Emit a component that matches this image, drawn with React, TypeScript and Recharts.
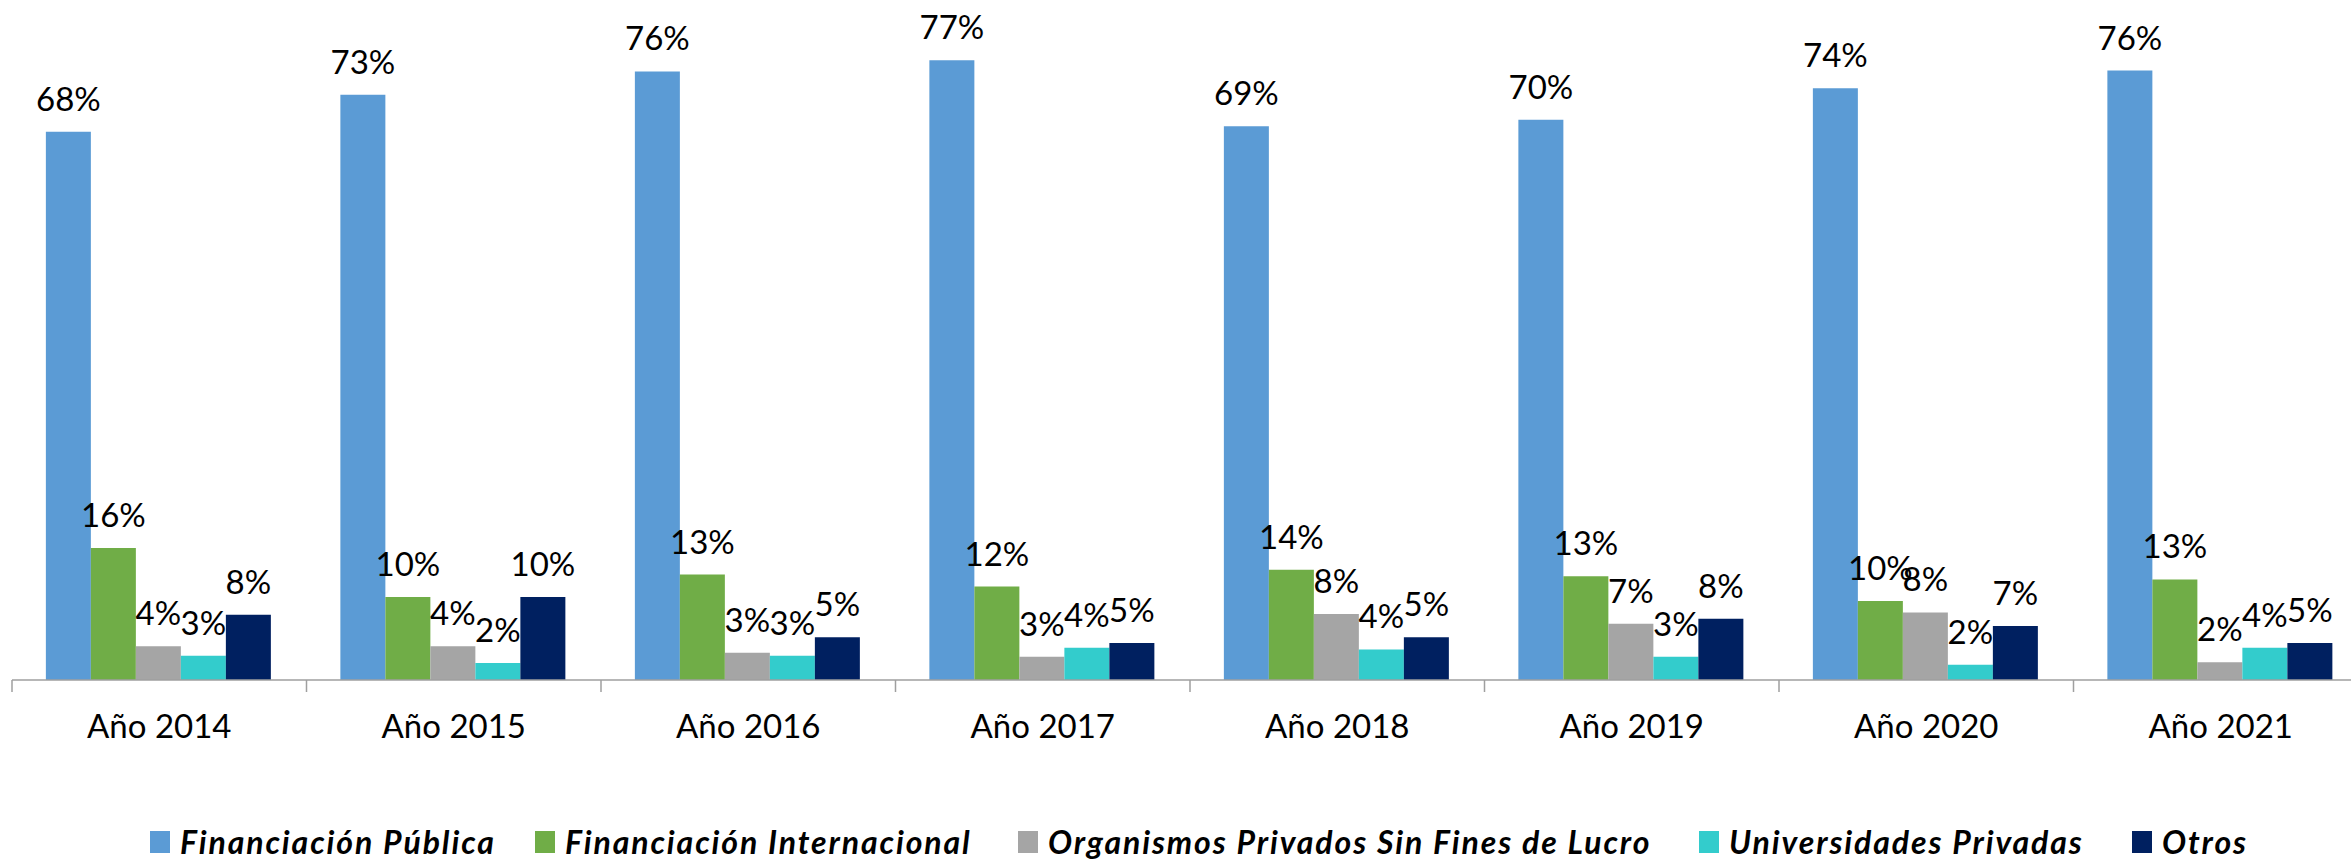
import React from 'react';
import { BarChart, Bar, XAxis, YAxis, LabelList, Legend } from 'recharts';

const categories = ['Año 2014', 'Año 2015', 'Año 2016', 'Año 2017', 'Año 2018', 'Año 2019', 'Año 2020', 'Año 2021'];
const publica = [68.1, 72.7, 75.6, 77.0, 68.8, 69.6, 73.5, 75.7];
const internacional = [16.4, 10.3, 13.1, 11.6, 13.7, 12.9, 9.8, 12.5];
const privados = [4.2, 4.2, 3.4, 2.9, 8.2, 7.0, 8.4, 2.2];
const universidades = [3.0, 2.1, 3.0, 4.0, 3.8, 2.9, 1.9, 4.0];
const otros = [8.1, 10.3, 5.3, 4.6, 5.3, 7.6, 6.7, 4.6];

const seriesNames = [
  'Financiación Pública',
  'Financiación Internacional',
  'Organismos Privados Sin Fines de Lucro',
  'Universidades Privadas',
  'Otros',
];
const seriesKeys = ['publica', 'internacional', 'privados', 'universidades', 'otros'];
const seriesColors = ['#5B9BD5', '#70AD47', '#A5A5A5', '#33CCCC', '#002060'];
const legendItemWidths = [385, 483, 681, 433, 150];

const data = categories.map((c, i) => ({
  name: c,
  publica: publica[i],
  internacional: internacional[i],
  privados: privados[i],
  universidades: universidades[i],
  otros: otros[i],
}));

const FONT = 'Lato, Carlito, Calibri, "Noto Sans", sans-serif';
const fmt = (v: any) => `${Math.round(Number(v))}%`;

const CustomTick = (props: any) => {
  const { x, y, payload, index } = props;
  const off = payload && typeof payload.offset === 'number' && payload.offset > 0 ? payload.offset : 147.25;
  const axisY = y - 12;
  return (
    <g>
      <line x1={x - off} x2={x - off} y1={axisY} y2={axisY + 12} stroke="#9F9F9F" strokeWidth={1.5} />
      {index === categories.length - 1 && (
        <line x1={x + off} x2={x + off} y1={axisY} y2={axisY + 12} stroke="#9F9F9F" strokeWidth={1.5} />
      )}
      <text x={x} y={axisY + 58} textAnchor="middle" fill="#000" fontSize={33} fontFamily={FONT}>
        {payload.value}
      </text>
    </g>
  );
};

const CustomLegend = () => (
  <div style={{ display: 'flex', alignItems: 'center', paddingLeft: 150 }}>
    {seriesNames.map((n, i) => (
      <div key={n} style={{ display: 'flex', alignItems: 'center', width: legendItemWidths[i], flex: 'none' }}>
        <div style={{ width: 20, height: 22, background: seriesColors[i], marginRight: 10, flex: 'none' }} />
        <span
          style={{
            fontFamily: FONT,
            fontWeight: 700,
            fontStyle: 'italic',
            fontSize: 32,
            letterSpacing: '1.9px',
            lineHeight: '30px',
            color: '#000',
            whiteSpace: 'nowrap',
          }}
        >
          {n}
        </span>
      </div>
    ))}
  </div>
);

export default function App() {
  return (
    <div style={{ position: 'absolute', left: 0, top: 0, width: 2351, height: 859, overflow: 'hidden', background: '#fff' }}>
      <BarChart
        width={2368}
        height={859}
        data={data}
        margin={{ top: 36, right: 0, bottom: 0, left: 12 }}
        barCategoryGap="11.5%"
        barGap={0}
      >
        <XAxis
          dataKey="name"
          height={179}
          axisLine={{ stroke: '#9F9F9F', strokeWidth: 1.5 }}
          tickLine={{ stroke: 'transparent' }}
          tickSize={12}
          tickMargin={0}
          tick={<CustomTick />}
          interval={0}
        />
        <YAxis hide domain={[0, 80]} />
        <Legend
          layout="horizontal"
          verticalAlign="middle"
          align="center"
          content={<CustomLegend />}
          wrapperStyle={{ left: 0, top: 827, width: 2351, height: 30 }}
        />
        {seriesKeys.map((k, i) => (
          <Bar key={k} dataKey={k} name={seriesNames[i]} fill={seriesColors[i]} isAnimationActive={false}>
            <LabelList
              dataKey={k}
              position="top"
              offset={21}
              formatter={fmt}
              fill="#000"
              fontSize={33}
              fontFamily={FONT}
            />
          </Bar>
        ))}
      </BarChart>
    </div>
  );
}
